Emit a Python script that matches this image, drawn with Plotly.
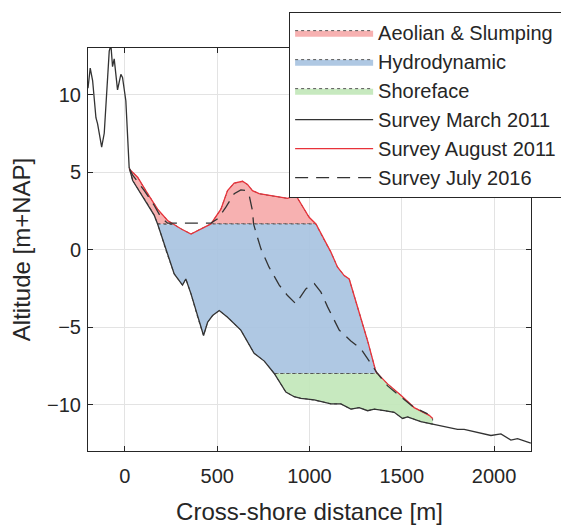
import numpy as np
import plotly.graph_objects as go

# ── Survey profiles ───────────────────────────────────────────────────────
march_x = [-200, -188, -175, -157, -148, -139, -126, -112, -97, -85, -76, -67, -58, -40,
           -22, -13, 5, 15, 23, 42, 87, 123, 159, 177, 195, 222, 267, 312, 330, 358, 394,
           426, 448, 475, 511, 556, 628, 700, 755, 809, 872, 917, 953, 1026, 1116, 1170,
           1224, 1269, 1315, 1351, 1405, 1459, 1504, 1531, 1603, 1712, 1802, 1838, 1983,
           2037, 2091, 2127, 2199]
march_y = [10.4, 11.7, 10.9, 8.5, 8.1, 7.5, 6.6, 7.5, 10.7, 12.8, 13.2, 11.8, 12.3, 10.3,
           11.3, 11.1, 9.6, 6.8, 5.3, 4.45, 3.6, 2.95, 2.2, 1.65, 1.0, -0.06, -1.57, -2.3,
           -1.9, -2.86, -4.37, -5.55, -4.69, -4.26, -3.94, -4.37, -5.2, -6.7, -7.2, -8.0,
           -9.2, -9.5, -9.6, -9.7, -9.96, -9.96, -10.3, -10.2, -10.4, -10.3, -10.4, -10.5,
           -10.9, -10.8, -11.1, -11.4, -11.6, -11.6, -12.0, -11.9, -12.3, -12.2, -12.5]

aug_x = [23, 69, 123, 177, 231, 303, 358, 412, 466, 520, 556, 592, 637, 664, 691, 727, 773,
         827, 881, 926, 953, 998, 1035, 1071, 1116, 1152, 1188, 1215, 1251, 1288, 1315,
         1360, 1423, 1495, 1567, 1649, 1667]
aug_y = [5.2, 4.66, 3.6, 2.6, 1.87, 1.34, 1.0, 1.34, 1.65, 2.6, 3.8, 4.28, 4.4, 4.2, 3.8,
         3.6, 3.5, 3.4, 3.3, 3.5, 2.95, 2.08, 1.65, 0.8, -0.17, -1.14, -1.68, -1.9, -3.3,
         -4.8, -5.9, -7.9, -8.67, -9.4, -10.2, -10.7, -10.9]

july_x = [25, 42, 105, 159, 195, 231, 300, 400, 466, 502, 547, 592, 628, 655, 673, 691, 697,
          715, 737, 781, 836, 881, 926, 980, 1026, 1062, 1098, 1161, 1224, 1278, 1333,
          1369, 1423, 1495, 1567, 1640]
july_y = [5.2, 4.8, 3.8, 2.84, 2.08, 1.7, 1.7, 1.7, 1.7, 1.98, 2.73, 3.6, 3.85, 3.8, 3.5,
          2.5, 1.65, 0.9, 0.04, -1.14, -2.3, -2.97, -3.5, -2.54, -2.2, -2.75, -3.7, -5.2,
          -5.9, -6.4, -7.4, -8.0, -8.8, -9.5, -10.2, -10.6]

# zone boundaries [m+NAP]
upper_limit = 1.65
lower_limit = -8.0

zones = [
    ("Aeolian & Slumping", upper_limit, 99.0, "rgba(246,168,168,0.9)"),
    ("Hydrodynamic", lower_limit, upper_limit, "rgba(168,195,225,0.92)"),
    ("Shoreface", -99.0, lower_limit, "rgba(194,231,186,0.92)"),
]

FONT = "Liberation Sans, Arial, Helvetica, sans-serif"
INK = "#262626"


def crossings(x, y, level):
    """x positions where a profile crosses a horizontal level."""
    x, y = np.asarray(x, float), np.asarray(y, float)
    d = y - level
    idx = np.where(d[:-1] * d[1:] < 0)[0]
    return x[idx] - d[idx] * (x[idx + 1] - x[idx]) / (d[idx + 1] - d[idx])


def zone_patch(xs, top, bot, lo, hi):
    """Closed outline(s) of the band between two profiles, split where it has no area."""
    t = np.clip(top, lo, hi)
    b = np.clip(bot, lo, hi)
    has_area = (t - b) > 1e-6
    keep = has_area.copy()
    keep[1:] |= has_area[:-1]
    keep[:-1] |= has_area[1:]
    px, py = [], []
    i = 0
    while i < len(xs):
        if not keep[i]:
            i += 1
            continue
        j = i
        while j < len(xs) and keep[j]:
            j += 1
        seg = slice(i, j)
        px += list(xs[seg]) + list(xs[seg][::-1]) + [None]
        py += list(t[seg]) + list(b[seg][::-1]) + [None]
        i = j
    return px, py


fig = go.Figure()

# common x grid for the zone patches (survey points + level crossings)
xs = np.union1d(march_x, aug_x)
for lvl in (upper_limit, lower_limit):
    xs = np.union1d(xs, crossings(march_x, march_y, lvl))
    xs = np.union1d(xs, crossings(aug_x, aug_y, lvl))
xs = xs[(xs >= aug_x[0]) & (xs <= aug_x[-1])]
top = np.interp(xs, aug_x, aug_y)
bot = np.interp(xs, march_x, march_y)

for name, lo, hi, color in zones:
    px, py = zone_patch(xs, top, bot, lo, hi)
    fig.add_trace(go.Scatter(
        x=px, y=py,
        mode="lines",
        fill="toself",
        fillcolor=color,
        line=dict(color="#555555", width=1, dash="dot"),
        name=name,
        hoverinfo="skip",
    ))

fig.add_trace(go.Scatter(
    x=march_x, y=march_y, mode="lines", name="Survey March 2011",
    line=dict(color="#333333", width=1.3),
))
fig.add_trace(go.Scatter(
    x=aug_x, y=aug_y, mode="lines", name="Survey August 2011",
    line=dict(color="#e8323a", width=1.3),
))
fig.add_trace(go.Scatter(
    x=july_x, y=july_y, mode="lines", name="Survey July 2016",
    line=dict(color="#333333", width=1.3, dash="13px,8px"),
))

axis_common = dict(
    showline=True, linecolor=INK, linewidth=1, mirror="allticks",
    ticks="inside", ticklen=5, tickcolor=INK,
    showgrid=True, gridcolor="#e3e3e3", gridwidth=1,
    zeroline=False,
    tickfont=dict(family=FONT, size=20, color=INK),
)

fig.update_xaxes(
    range=[-200, 2200], tickvals=[0, 500, 1000, 1500, 2000],
    ticklabelstandoff=7,
    title=dict(text="Cross-shore distance [m]", font=dict(family=FONT, size=24, color=INK),
               standoff=18),
    **axis_common,
)
fig.update_yaxes(
    range=[-13, 13], tickvals=[-10, -5, 0, 5, 10],
    ticklabelstandoff=2,
    title=dict(text="Altitude [m+NAP]", font=dict(family=FONT, size=24, color=INK),
               standoff=9),
    **axis_common,
)

# page body adds an 8 px offset, so the figure is 8 px smaller than the window
fig.update_layout(
    width=561, height=517,
    margin=dict(l=80, r=38, t=40, b=74, autoexpand=False),
    paper_bgcolor="white",
    plot_bgcolor="white",
    font=dict(family=FONT, color=INK),
    legend=dict(
        x=0.454, y=1.089, xanchor="left", yanchor="top",
        bgcolor="white", bordercolor=INK, borderwidth=1,
        font=dict(family=FONT, size=20, color=INK),
        itemwidth=78,
    ),
)

fig.write_html("out.html")
